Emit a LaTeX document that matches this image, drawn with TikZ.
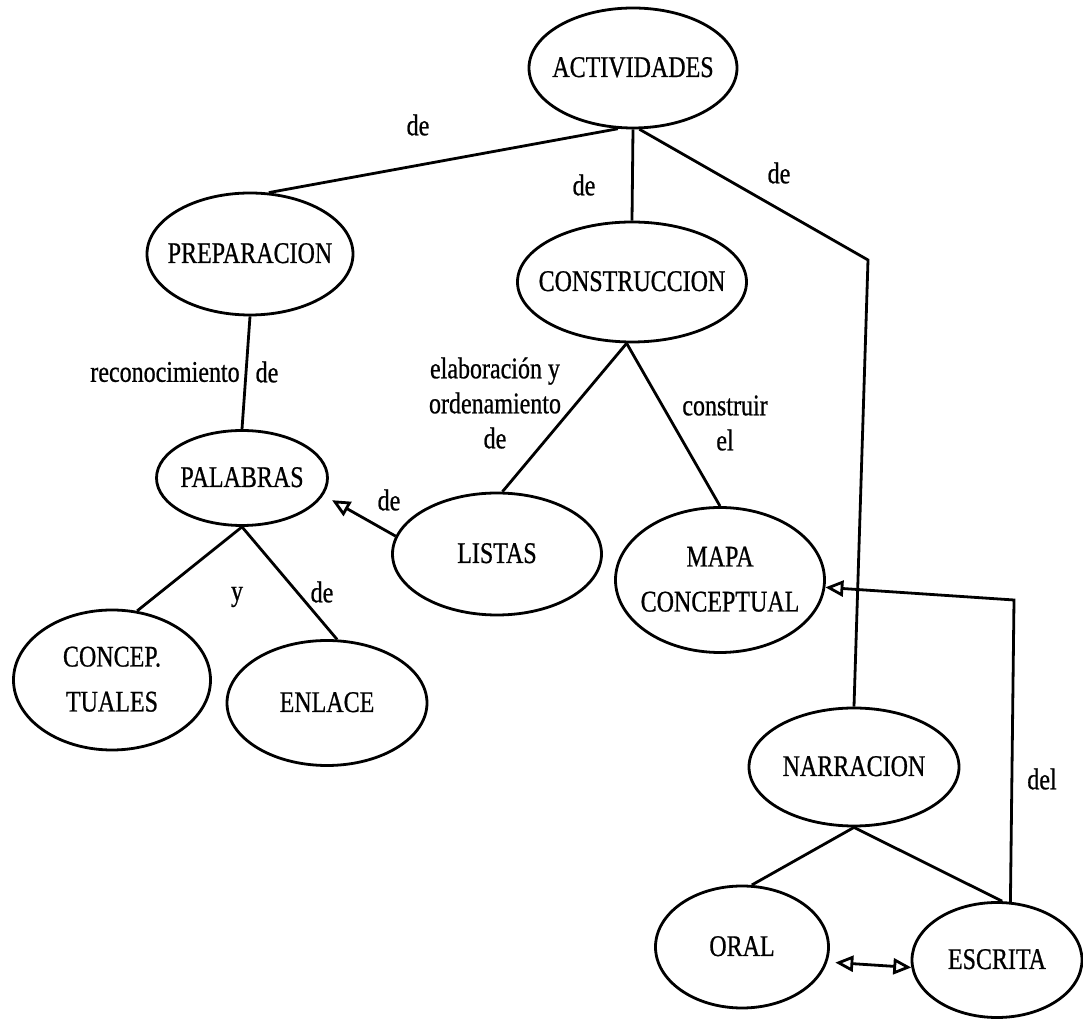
\documentclass[tikz,border=0pt]{standalone}
\usepackage{fontspec}
\setmainfont{Liberation Serif}[FakeStretch=0.8,FakeBold=0.7]
\usetikzlibrary{shapes}
\usetikzlibrary{positioning}
\usetikzlibrary{arrows.meta}
\newcommand{\ctext}[1]{\makebox[0pt]{\begin{tabular}{@{}c@{}}#1\end{tabular}}}
\tikzset{
    concept/.style = {ellipse, draw=black, line width=1.4pt, inner sep=0pt, font=\fontsize{15}{22.5}\selectfont},
    dims/.style 2 args = {minimum width=#1*0.5pt, minimum height=#2*0.5pt},
    linkword/.style = {inner sep=1pt, align=center, font=\fontsize{15}{17.5}\selectfont},
    edgen/.style = {line width=1.4pt},
    edgea/.style = {-{Triangle[open,length=9pt,width=8pt]},line width=1.4pt}, % one way
    edgeaa/.style = {{Triangle[open,length=9pt,width=8pt]}-{Triangle[open,length=9pt,width=8pt]},line width=1.4pt} % both ways
}

\begin{document}
\begin{tikzpicture}[x=0.5pt,y=-0.5pt]
\useasboundingbox (0,0) rectangle (1083,1020);
%
\node[concept, dims={208}{120}] at (633,68) (act) {\ctext{ACTIVIDADES}};
\node[concept, dims={206}{122}] at (250,254) (prep) {\ctext{PREPARACION}};
\node[concept, dims={229}{120}] at (632,282) (cons) {\ctext{CONSTRUCCION}};
\node[concept, dims={171}{95}] at (242,478) (pal) {\ctext{PALABRAS}};
\node[concept, dims={209}{122}] at (497,554) (lis) {\ctext{LISTAS}};
\node[concept, dims={209}{145}] at (720,580) (mapa) {\ctext{MAPA\\CONCEPTUAL}};
\node[concept, dims={197}{140}] at (112,680) (concep) {\ctext{CONCEP.\\TUALES}};
\node[concept, dims={200}{125}] at (327,703) (enl) {\ctext{ENLACE}};
\node[concept, dims={210}{118}] at (854,767) (narr) {\ctext{NARRACION}};
\node[concept, dims={173}{122}] at (742,947) (oral) {\ctext{ORAL}};
\node[concept, dims={170}{115}] at (997,960) (escr) {\ctext{ESCRITA}};
\coordinate (bend) at (868,260);
\coordinate (bendb) at (1014,600);
%
\node[linkword] at (418,125) (de1) {de};
\node[linkword] at (584,185) (de2) {de};
\node[linkword] at (779,173) (de3) {de};
\node[linkword] at (165,372) (reco) {reconocimiento};
\node[linkword] at (267,372) (de4) {de};
\node[linkword] at (495,403) (elab) {elaboración y\\ordenamiento\\de};
\node[linkword] at (725,423) (constr) {construir\\el};
\node[linkword] at (389,500) (de5) {de};
\node[linkword] at (237,597) (yy) {y};
\node[linkword] at (322,592) (de6) {de};
\node[linkword] at (1042,779) (del) {del};
%
\draw[edgen] (act.256) -- (prep.73);
\draw[edgen] (act.south) -- (cons.north);
\draw[edgen] (act.-84) -- (bend) -- (narr.north);
\draw[edgen] (prep.south) -- (pal.north);
\draw[edgen] (cons.265) -- (lis.85);
\draw[edgen] (cons.265) -- (mapa.north);
\draw[edgea, shorten >=5pt] (lis.170) -- (pal.-12);
\draw[edgen] (pal.south) -- (concep.70);
\draw[edgen] (pal.south) -- (enl.81);
\draw[edgen] (narr.south) -- (oral.81);
\draw[edgen] (narr.south) -- (escr.85);
\draw[edgea] (escr.77) -- (bendb) -- (mapa.-4);
\draw[edgeaa, shorten <=4pt] (oral.-10) -- (escr.185);
\end{tikzpicture}
\end{document}
